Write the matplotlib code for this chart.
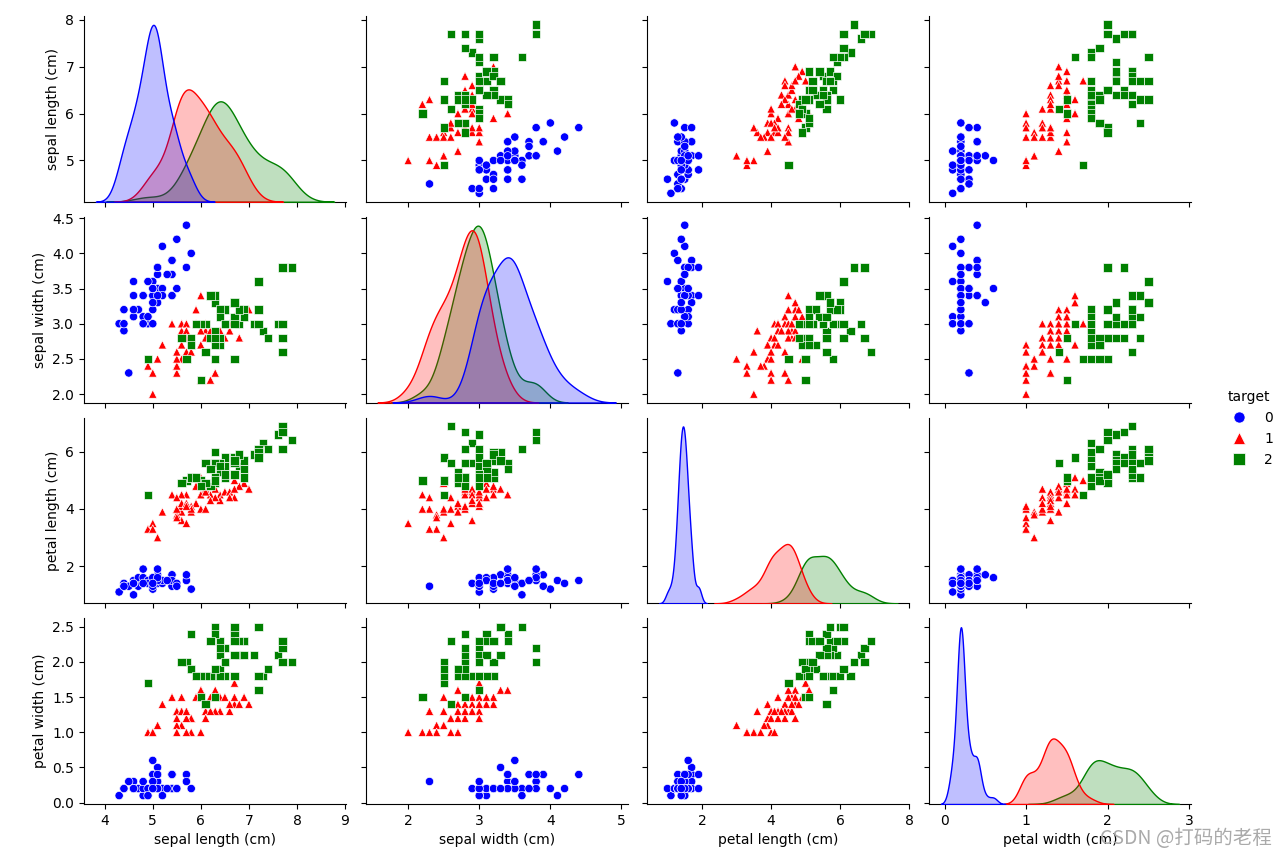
import matplotlib
matplotlib.use("Agg")
import matplotlib.pyplot as plt
from matplotlib.lines import Line2D
import seaborn as sns
import pandas as pd

sepal_length = [
    5.1,4.9,4.7,4.6,5.0,5.4,4.6,5.0,4.4,4.9,5.4,4.8,4.8,4.3,5.8,5.7,5.4,5.1,5.7,5.1,
    5.4,5.1,4.6,5.1,4.8,5.0,5.0,5.2,5.2,4.7,4.8,5.4,5.2,5.5,4.9,5.0,5.5,4.9,4.4,5.1,
    5.0,4.5,4.4,5.0,5.1,4.8,5.1,4.6,5.3,5.0,
    7.0,6.4,6.9,5.5,6.5,5.7,6.3,4.9,6.6,5.2,5.0,5.9,6.0,6.1,5.6,6.7,5.6,5.8,6.2,5.6,
    5.9,6.1,6.3,6.1,6.4,6.6,6.8,6.7,6.0,5.7,5.5,5.5,5.8,6.0,5.4,6.0,6.7,6.3,5.6,5.5,
    5.5,6.1,5.8,5.0,5.6,5.7,5.7,6.2,5.1,5.7,
    6.3,5.8,7.1,6.3,6.5,7.6,4.9,7.3,6.7,7.2,6.5,6.4,6.8,5.7,5.8,6.4,6.5,7.7,7.7,6.0,
    6.9,5.6,7.7,6.3,6.7,7.2,6.2,6.1,6.4,7.2,7.4,7.9,6.4,6.3,6.1,7.7,6.3,6.4,6.0,6.9,
    6.7,6.9,5.8,6.8,6.7,6.7,6.3,6.5,6.2,5.9,
]
sepal_width = [
    3.5,3.0,3.2,3.1,3.6,3.9,3.4,3.4,2.9,3.1,3.7,3.4,3.0,3.0,4.0,4.4,3.9,3.5,3.8,3.8,
    3.4,3.7,3.6,3.3,3.4,3.0,3.4,3.5,3.4,3.2,3.1,3.4,4.1,4.2,3.1,3.2,3.5,3.6,3.0,3.4,
    3.5,2.3,3.2,3.5,3.8,3.0,3.8,3.2,3.7,3.3,
    3.2,3.2,3.1,2.3,2.8,2.8,3.3,2.4,2.9,2.7,2.0,3.0,2.2,2.9,2.9,3.1,3.0,2.7,2.2,2.5,
    3.2,2.8,2.5,2.8,2.9,3.0,2.8,3.0,2.9,2.6,2.4,2.4,2.7,2.7,3.0,3.4,3.1,2.3,3.0,2.5,
    2.6,3.0,2.6,2.3,2.7,3.0,2.9,2.9,2.5,2.8,
    3.3,2.7,3.0,2.9,3.0,3.0,2.5,2.9,2.5,3.6,3.2,2.7,3.0,2.5,2.8,3.2,3.0,3.8,2.6,2.2,
    3.2,2.8,2.8,2.7,3.3,3.2,2.8,3.0,2.8,3.0,2.8,3.8,2.8,2.8,2.6,3.0,3.4,3.1,3.0,3.1,
    3.1,3.1,2.7,3.2,3.3,3.0,2.5,3.0,3.4,3.0,
]
petal_length = [
    1.4,1.4,1.3,1.5,1.4,1.7,1.4,1.5,1.4,1.5,1.5,1.6,1.4,1.1,1.2,1.5,1.3,1.4,1.7,1.5,
    1.7,1.5,1.0,1.7,1.9,1.6,1.6,1.5,1.4,1.6,1.6,1.5,1.5,1.4,1.5,1.2,1.3,1.4,1.3,1.5,
    1.3,1.3,1.3,1.6,1.9,1.4,1.6,1.4,1.5,1.4,
    4.7,4.5,4.9,4.0,4.6,4.5,4.7,3.3,4.6,3.9,3.5,4.2,4.0,4.7,3.6,4.4,4.5,4.1,4.5,3.9,
    4.8,4.0,4.9,4.7,4.3,4.4,4.8,5.0,4.5,3.5,3.8,3.7,3.9,5.1,4.5,4.5,4.7,4.4,4.1,4.0,
    4.4,4.6,4.0,3.3,4.2,4.2,4.2,4.3,3.0,4.1,
    6.0,5.1,5.9,5.6,5.8,6.6,4.5,6.3,5.8,6.1,5.1,5.3,5.5,5.0,5.1,5.3,5.5,6.7,6.9,5.0,
    5.7,4.9,6.7,4.9,5.7,6.0,4.8,4.9,5.6,5.8,6.1,6.4,5.6,5.1,5.6,6.1,5.6,5.5,4.8,5.4,
    5.6,5.1,5.1,5.9,5.7,5.2,5.0,5.2,5.4,5.1,
]
petal_width = [
    0.2,0.2,0.2,0.2,0.2,0.4,0.3,0.2,0.2,0.1,0.2,0.2,0.1,0.1,0.2,0.4,0.4,0.3,0.3,0.3,
    0.2,0.4,0.2,0.5,0.2,0.2,0.4,0.2,0.2,0.2,0.2,0.4,0.1,0.2,0.2,0.2,0.2,0.1,0.2,0.2,
    0.3,0.3,0.2,0.6,0.4,0.3,0.2,0.2,0.2,0.2,
    1.4,1.5,1.5,1.3,1.5,1.3,1.6,1.0,1.3,1.4,1.0,1.5,1.0,1.4,1.3,1.4,1.5,1.0,1.5,1.1,
    1.8,1.3,1.5,1.2,1.3,1.4,1.4,1.7,1.5,1.0,1.1,1.0,1.2,1.6,1.5,1.6,1.5,1.3,1.3,1.3,
    1.2,1.4,1.2,1.0,1.3,1.2,1.3,1.3,1.1,1.3,
    2.5,1.9,2.1,1.8,2.2,2.1,1.7,1.8,1.8,2.5,2.0,1.9,2.1,2.0,2.4,2.3,1.8,2.2,2.3,1.5,
    2.3,2.0,2.0,1.8,2.1,1.8,1.8,1.8,2.1,1.6,1.9,2.0,2.2,1.5,1.4,2.3,2.4,1.8,1.8,2.1,
    2.4,2.3,1.9,2.3,2.5,2.3,1.9,2.0,2.3,1.8,
]
target = [0] * 50 + [1] * 50 + [2] * 50

feature_names = ["sepal length (cm)", "sepal width (cm)",
                 "petal length (cm)", "petal width (cm)"]
class_labels = ["0", "1", "2"]
palette = ["blue", "red", "green"]
markers = ["o", "^", "s"]

df = pd.DataFrame({
    feature_names[0]: sepal_length,
    feature_names[1]: sepal_width,
    feature_names[2]: petal_length,
    feature_names[3]: petal_width,
    "target": target,
})

g = sns.pairplot(df, hue="target", palette=palette, markers=markers,
                 height=2.14, aspect=1.4)
fig = g.figure
fig.set_size_inches(12.88, 8.57)
fig.subplots_adjust(left=0.0652, right=0.9247, top=0.9813, bottom=0.0618,
                    wspace=0.075, hspace=0.081)

if g._legend is not None:
    g._legend.remove()

handles = [Line2D([], [], linestyle="", marker=m, color=c, markersize=8,
                  markeredgecolor="white", markeredgewidth=0.5)
           for m, c in zip(markers, palette)]
fig.legend(handles, class_labels, title="target", loc="center right",
           bbox_to_anchor=(0.998, 0.5), frameon=False, fontsize=10,
           title_fontsize=10)

fig.text(0.9876, 0.022, "CSDN @打码的老程", ha="right", va="center",
         fontsize=14, color="#aaaaaa",
         family=["Noto Sans CJK SC", "DejaVu Sans"])

fig.savefig("out.png", dpi=100)
